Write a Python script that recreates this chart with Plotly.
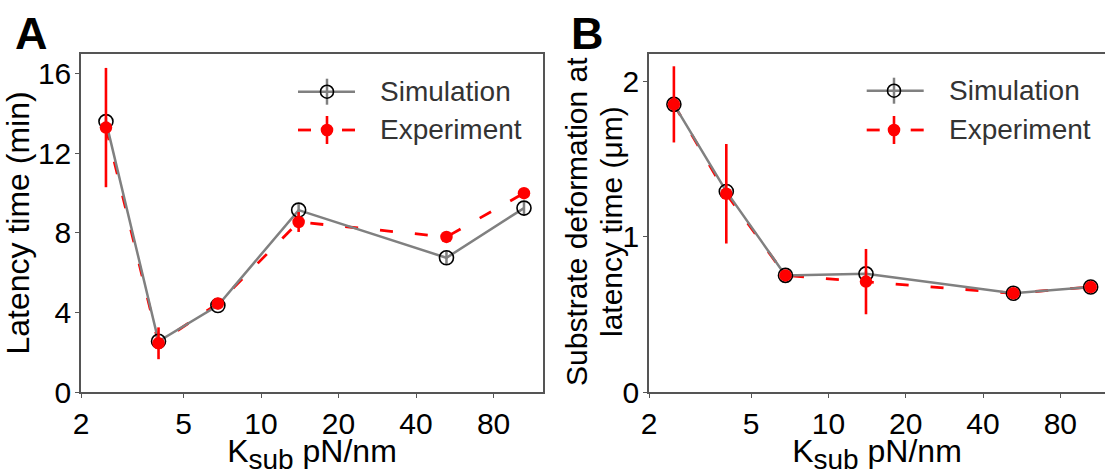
import plotly.graph_objects as go

# ---------------- data ----------------
k_sub = [2.5, 4, 6.8, 14, 52.5, 105]

latency_sim = [13.6, 2.55, 4.35, 9.15, 6.75, 9.25]
latency_sim_err = [0.2, 0.2, 0.2, 0.3, 0.35, 0.35]
latency_exp = [13.3, 2.45, 4.45, 8.55, 7.8, 10.0]
latency_exp_err = [3.0, 0.8, 0.12, 0.5, 0.2, 0.2]

deform_sim = [1.85, 1.29, 0.75, 0.76, 0.635, 0.675]
deform_sim_err = [0.02, 0.02, 0.02, 0.02, 0.02, 0.02]
deform_exp = [1.85, 1.275, 0.75, 0.71, 0.635, 0.675]
deform_exp_err = [0.245, 0.32, 0.03, 0.21, 0.03, 0.03]

x_tickvals = [2, 5, 10, 20, 40, 80]
x_ticktext = ["2", "5", "10", "20", "40", "80"]
yA_tickvals = [0, 4, 8, 12, 16]
yB_tickvals = [0, 1, 2]
yB_title_lines = ["Substrate deformation at", "latency time (μm)"]
x_title = "K<sub><span style='font-size:28px'>sub</span></sub> pN/nm"

# ---------------- style ----------------
W, H = 1105, 475
FONT = "Liberation Sans, Arial, sans-serif"
GRAY = "#808080"
RED = "#ff0000"
FRAME = "#555555"


def px(x):
    return x / W


def py(y):
    return 1 - y / H


fig = go.Figure()


def add_panel(xa, ya, sim, sim_err, exp, exp_err):
    # experiment dashed line (bottom layer)
    fig.add_trace(go.Scatter(
        x=k_sub, y=exp, mode="lines", xaxis=xa, yaxis=ya,
        line=dict(color=RED, width=2.8, dash="13px,22px"),
        showlegend=False, hoverinfo="skip"))
    # simulation
    fig.add_trace(go.Scatter(
        x=k_sub, y=sim, mode="lines+markers", xaxis=xa, yaxis=ya,
        line=dict(color=GRAY, width=2.5),
        marker=dict(symbol="circle", size=14, color="rgba(0,0,0,0)",
                    line=dict(color="black", width=1.6)),
        error_y=dict(type="data", array=sim_err, visible=True,
                     color=GRAY, thickness=2.5, width=0),
        showlegend=False))
    # experiment markers + error bars (top layer)
    fig.add_trace(go.Scatter(
        x=k_sub, y=exp, mode="markers", xaxis=xa, yaxis=ya,
        marker=dict(symbol="circle", size=12.5, color=RED,
                    line=dict(width=0)),
        error_y=dict(type="data", array=exp_err, visible=True,
                     color=RED, thickness=2.6, width=0),
        showlegend=False))


add_panel("x", "y", latency_sim, latency_sim_err, latency_exp, latency_exp_err)
add_panel("x2", "y2", deform_sim, deform_sim_err, deform_exp, deform_exp_err)

tickfont = dict(family=FONT, size=30, color="black")

common_x = dict(
    type="log", tickvals=x_tickvals, ticktext=x_ticktext,
    ticks="outside", ticklen=4, tickwidth=1.2, tickcolor=FRAME,
    showline=True, linecolor=FRAME, linewidth=1.5, mirror=True,
    showgrid=False, zeroline=False, tickfont=tickfont, automargin=False,
    title=dict(text=x_title,
               font=dict(family=FONT, size=32, color="black"), standoff=6),
)
common_y = dict(
    ticks="outside", ticklen=4, tickwidth=1.2, tickcolor=FRAME,
    showline=True, linecolor=FRAME, linewidth=1.5, mirror=True,
    showgrid=False, zeroline=False, tickfont=tickfont, automargin=False,
    ticklabelstandoff=-2,
)

ydom = [py(392), py(54)]

fig.update_layout(
    width=W, height=H,
    margin=dict(l=0, r=0, t=0, b=0, autoexpand=False),
    paper_bgcolor="white", plot_bgcolor="white",
    showlegend=False,
    xaxis=dict(common_x, domain=[px(81), px(543)], range=[0.301, 2.095],
               anchor="y"),
    yaxis=dict(common_y, domain=ydom, range=[0, 17], tickvals=yA_tickvals,
               anchor="x",
               title=dict(text="Latency time (min)",
                          font=dict(family=FONT, size=32, color="black"),
                          standoff=7)),
    xaxis2=dict(common_x, domain=[px(649), 1.0], range=[0.301, 2.077],
                anchor="y2"),
    yaxis2=dict(common_y, domain=ydom, range=[0, 2.174], tickvals=yB_tickvals,
                anchor="x2"),
)

# panel B y-axis title (two lines, placed as rotated text)
for line_text, xc in zip(yB_title_lines, (576, 611)):
    fig.add_annotation(text=line_text, x=px(xc), y=py(222), xref="paper",
                       yref="paper", xanchor="center", yanchor="middle",
                       textangle=-90, showarrow=False,
                       font=dict(family=FONT, size=30, color="black"))

# panel letters
for letter, xpos in (("A", 13), ("B", 569)):
    fig.add_annotation(text=f"<b>{letter}</b>", x=px(xpos), y=py(6),
                       xref="paper", yref="paper", xanchor="left",
                       yanchor="top", showarrow=False,
                       font=dict(family=FONT, size=45, color="black"))

# custom legends (layout decoration in paper coordinates)
legend_layout = [
    # line start x, marker x, text x, row1 y, row2 y
    (298, 327, 378, 91.7, 130),
    (866.7, 894, 946.7, 90.7, 130),
]
legend_len = 57

for lx, mx, tx, r1, r2 in legend_layout:
    # Simulation row
    fig.add_shape(type="line", xref="paper", yref="paper",
                  x0=px(lx), x1=px(lx + legend_len), y0=py(r1), y1=py(r1),
                  line=dict(color=GRAY, width=2.5))
    fig.add_shape(type="line", xref="paper", yref="paper",
                  x0=px(mx), x1=px(mx), y0=py(r1 - 13), y1=py(r1 + 13),
                  line=dict(color=GRAY, width=2.5))
    fig.add_shape(type="circle", xref="paper", yref="paper",
                  xsizemode="pixel", ysizemode="pixel",
                  xanchor=px(mx), yanchor=py(r1),
                  x0=-6.5, x1=6.5, y0=-6.5, y1=6.5,
                  line=dict(color="black", width=1.6),
                  fillcolor="rgba(0,0,0,0)")
    fig.add_annotation(text="Simulation", x=px(tx), y=py(r1), xref="paper",
                       yref="paper", xanchor="left", yanchor="middle",
                       showarrow=False,
                       font=dict(family=FONT, size=28, color="#333333"))
    # Experiment row
    for a, b in ((lx, lx + 13), (lx + legend_len - 13, lx + legend_len)):
        fig.add_shape(type="line", xref="paper", yref="paper",
                      x0=px(a), x1=px(b), y0=py(r2), y1=py(r2),
                      line=dict(color=RED, width=2.8))
    fig.add_shape(type="line", xref="paper", yref="paper",
                  x0=px(mx), x1=px(mx), y0=py(r2 - 14), y1=py(r2 + 14),
                  line=dict(color=RED, width=2.6))
    fig.add_shape(type="circle", xref="paper", yref="paper",
                  xsizemode="pixel", ysizemode="pixel",
                  xanchor=px(mx), yanchor=py(r2),
                  x0=-6.3, x1=6.3, y0=-6.3, y1=6.3,
                  line=dict(width=0), fillcolor=RED)
    fig.add_annotation(text="Experiment", x=px(tx), y=py(r2), xref="paper",
                       yref="paper", xanchor="left", yanchor="middle",
                       showarrow=False,
                       font=dict(family=FONT, size=28, color="#333333"))

fig.write_html(
    "out.html",
    config={"displayModeBar": False},
    post_script="document.body.style.margin='0';document.body.style.padding='0';",
)
